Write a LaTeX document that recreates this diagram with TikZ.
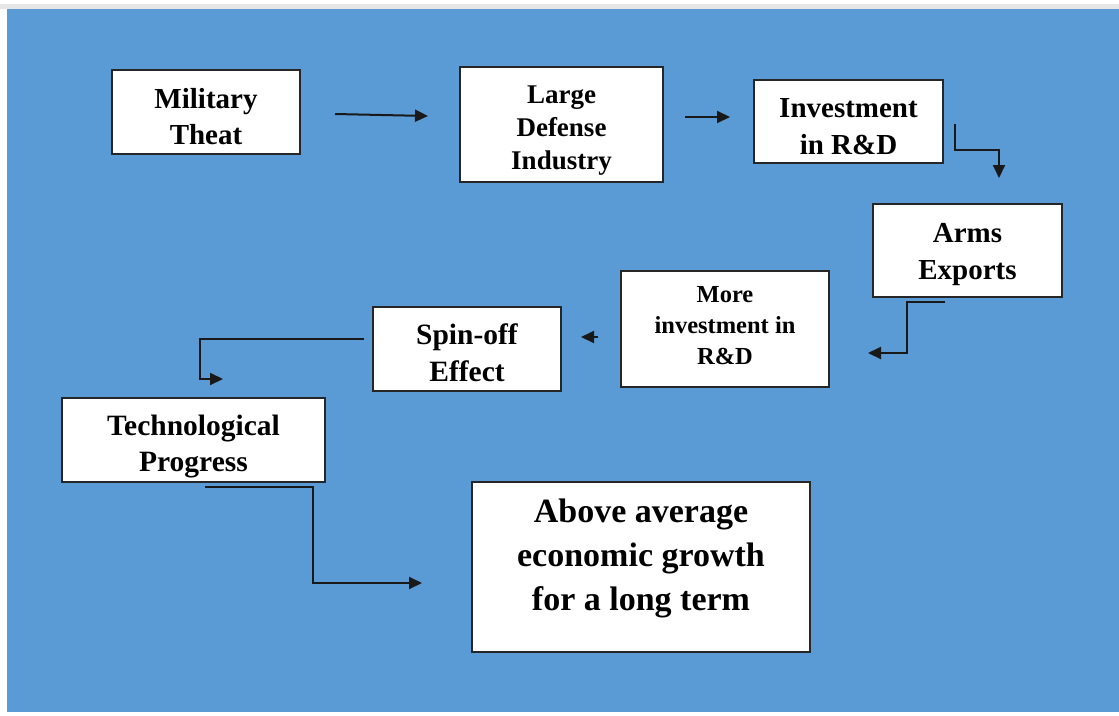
\documentclass[tikz,border=0pt]{standalone}
\usepackage{fontspec}
\setmainfont{Liberation Serif}
\usetikzlibrary{arrows.meta}
\definecolor{bgblue}{HTML}{5B9BD5}
\definecolor{edgegray}{HTML}{E6E6E6}
\tikzset{
  box/.style={draw=black!85, line width=1.8pt, fill=white, rectangle, inner sep=0pt},
  lbl/.style={align=center, font=\bfseries, inner sep=0pt},
  arr/.style={draw=black!90, line width=2pt, -{Triangle[length=13pt,width=12pt]}},
}
\begin{document}
\begin{tikzpicture}[x=1pt,y=-1pt]
\useasboundingbox (0,0) rectangle (1119,715);
\fill[white] (0,0) rectangle (1119,715);
\fill[edgegray] (0,4) rectangle (1119,9);
\fill[bgblue] (7,9) rectangle (1119,712);

% boxes
\node[box, minimum width=188pt, minimum height=84pt] (mil) at (206,112) {};
\node[box, minimum width=203pt, minimum height=115pt] (lar) at (561.5,124.5) {};
\node[box, minimum width=189pt, minimum height=83pt] (inv) at (848.5,121.5) {};
\node[box, minimum width=189pt, minimum height=93pt] (arm) at (967.5,250.5) {};
\node[box, minimum width=208pt, minimum height=116pt] (mor) at (725,329) {};
\node[box, minimum width=188pt, minimum height=84pt] (spi) at (467,349) {};
\node[box, minimum width=263pt, minimum height=84pt] (tec) at (193.5,440) {};
\node[box, minimum width=338pt, minimum height=170pt] (abo) at (641,567) {};

% texts
\node[lbl, font=\bfseries\fontsize{29}{36}\selectfont] (milt) at (206,117) {Military\\Theat};
\node[lbl, font=\bfseries\fontsize{27}{33}\selectfont] (lart) at (561.5,130.5) {Large\\Defense\\Industry};
\node[lbl, font=\bfseries\fontsize{29}{37}\selectfont] (invt) at (848.5,127) {Investment\\in R\&D};
\node[lbl, font=\bfseries\fontsize{29}{37}\selectfont] (armt) at (967.5,254.5) {Arms\\Exports};
\node[lbl, font=\bfseries\fontsize{24.5}{31}\selectfont] (mort) at (725,325.5) {More\\investment in\\R\&D};
\node[lbl, font=\bfseries\fontsize{29.5}{37}\selectfont] (spit) at (467,352.5) {Spin-off\\Effect};
\node[lbl, font=\bfseries\fontsize{29.5}{36}\selectfont] (tect) at (193.5,447) {Technological\\Progress};
\node[lbl, font=\bfseries\fontsize{34}{44}\selectfont] (abot) at (641,558) {Above average\\economic growth\\for a long term};

% connector ends
\coordinate (a1s) at (335,114);  \coordinate (a1e) at (428,116);
\coordinate (a2s) at (685,117);  \coordinate (a2e) at (730,117);
\coordinate (a3s) at (955,124);  \coordinate (a3e) at (999,178);
\coordinate (a4s) at (945,302);  \coordinate (a4e) at (868,353);
\coordinate (a5s) at (598,337);  \coordinate (a5e) at (581,337);
\coordinate (a6s) at (364,339);  \coordinate (a6e) at (223,379);
\coordinate (a7s) at (205,487);  \coordinate (a7e) at (422,583);

\draw[arr] (a1s) -- (a1e);
\draw[arr] (a2s) -- (a2e);
\draw[arr] (a3s) -- (955,150) -- (999,150) -- (a3e);
\draw[arr] (a4s) -- (907,302) -- (907,353) -- (a4e);
\draw[arr] (a5s) -- (a5e);
\draw[arr] (a6s) -- (200,339) -- (200,379) -- (a6e);
\draw[arr] (a7s) -- (313,487) -- (313,583) -- (a7e);
\end{tikzpicture}
\end{document}
